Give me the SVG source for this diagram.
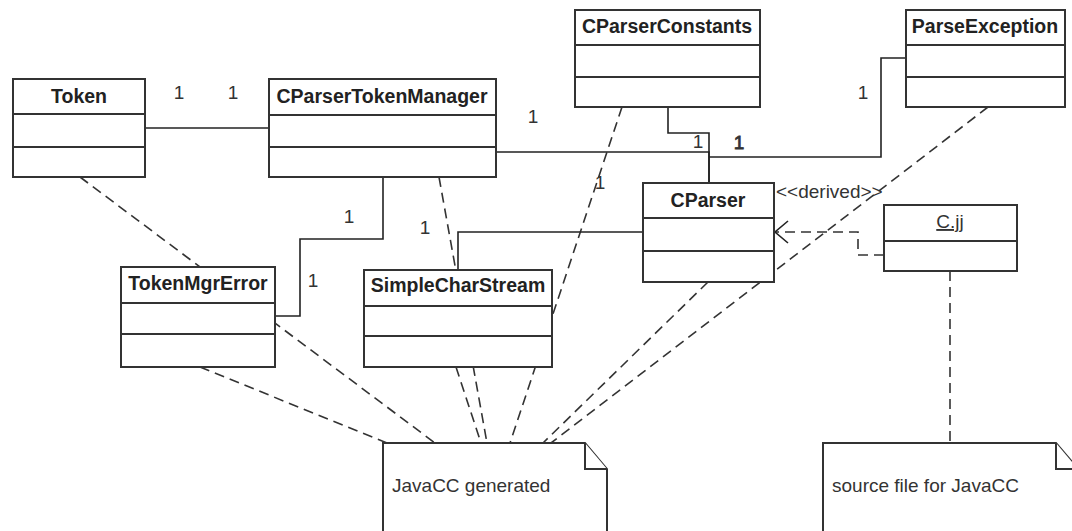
<svg xmlns="http://www.w3.org/2000/svg" width="1072" height="531" viewBox="0 0 1072 531">
  <style>
    .box { fill: #fff; stroke: #333; stroke-width: 2; }
    .div { stroke: #333; stroke-width: 2; }
    .title { font-family: "Liberation Sans", Arial, sans-serif; font-size: 19.5px; font-weight: bold; fill: #222; text-anchor: middle; }
    .txt { font-family: "Liberation Sans", Arial, sans-serif; font-size: 19px; fill: #333; }
    .mult { font-family: "Liberation Sans", Arial, sans-serif; font-size: 19px; fill: #333; text-anchor: middle; }
    .heavy { stroke: #333; stroke-width: 0.8; }
    .assoc { fill: none; stroke: #222; stroke-width: 1.6; }
    .dash { fill: none; stroke: #333; stroke-width: 1.6; stroke-dasharray: 10 6; }
    .note { fill: #fff; stroke: #333; stroke-width: 2; }
  </style>

  <!-- dashed links to notes, drawn first so boxes sit on top -->
  <g id="connectors">
    <line class="dash" x1="80" y1="177" x2="435" y2="443"/>
    <line class="dash" x1="200" y1="367" x2="387" y2="443"/>
    <line class="dash" x1="439" y1="177" x2="487" y2="443"/>
    <line class="dash" x1="456" y1="367" x2="481" y2="443"/>
    <line class="dash" x1="622" y1="107" x2="510" y2="443"/>
    <line class="dash" x1="708" y1="282" x2="543" y2="443"/>
    <line class="dash" x1="988" y1="107" x2="551" y2="443"/>
    <line class="dash" x1="950" y1="271" x2="950" y2="443"/>

    <!-- associations -->
    <line class="assoc" x1="145" y1="128" x2="269" y2="128"/>
    <polyline class="assoc" points="496,152 709,152 709,183"/>
    <polyline class="assoc" points="668,107 668,133 709,133 709,183"/>
    <polyline class="assoc" points="906,58 881,58 881,157 709,157"/>
    <polyline class="assoc" points="383,177 383,239 300,239 300,316 275,316"/>
    <polyline class="assoc" points="643,232 458,232 458,270"/>

    <!-- derivation dependency C.jj -> CParser -->
    <polyline class="dash" points="884,255 858,255 858,232 776,232"/>
    <polyline class="assoc" points="788,221 775,232 788,243"/>
  </g>

  <g id="Token">
    <rect class="box" x="13" y="79" width="132" height="98"/>
    <line class="div" x1="13" y1="114" x2="145" y2="114"/>
    <line class="div" x1="13" y1="147" x2="145" y2="147"/>
    <text class="title" x="79" y="103">Token</text>
  </g>

  <g id="CParserTokenManager">
    <rect class="box" x="269" y="79" width="227" height="98"/>
    <line class="div" x1="269" y1="115" x2="496" y2="115"/>
    <line class="div" x1="269" y1="147" x2="496" y2="147"/>
    <text class="title" x="382" y="103">CParserTokenManager</text>
  </g>

  <g id="CParserConstants">
    <rect class="box" x="575" y="10" width="185" height="97"/>
    <line class="div" x1="575" y1="45" x2="760" y2="45"/>
    <line class="div" x1="575" y1="77" x2="760" y2="77"/>
    <text class="title" x="667" y="33">CParserConstants</text>
  </g>

  <g id="ParseException">
    <rect class="box" x="906" y="10" width="159" height="97"/>
    <line class="div" x1="906" y1="45" x2="1065" y2="45"/>
    <line class="div" x1="906" y1="77" x2="1065" y2="77"/>
    <text class="title" x="985" y="33">ParseException</text>
  </g>

  <g id="CParser">
    <rect class="box" x="643" y="183" width="131" height="99"/>
    <line class="div" x1="643" y1="218" x2="774" y2="218"/>
    <line class="div" x1="643" y1="251" x2="774" y2="251"/>
    <text class="title" x="708" y="207">CParser</text>
  </g>

  <g id="TokenMgrError">
    <rect class="box" x="121" y="267" width="154" height="100"/>
    <line class="div" x1="121" y1="303" x2="275" y2="303"/>
    <line class="div" x1="121" y1="334" x2="275" y2="334"/>
    <text class="title" x="198" y="290">TokenMgrError</text>
  </g>

  <g id="SimpleCharStream">
    <rect class="box" x="364" y="270" width="188" height="97"/>
    <line class="div" x1="364" y1="306" x2="552" y2="306"/>
    <line class="div" x1="364" y1="336" x2="552" y2="336"/>
    <text class="title" x="458" y="292">SimpleCharStream</text>
  </g>

  <g id="Cjj">
    <rect class="box" x="884" y="205" width="133" height="66"/>
    <line class="div" x1="884" y1="241" x2="1017" y2="241"/>
    <text class="txt" x="950" y="228" text-anchor="middle" text-decoration="underline">C.jj</text>
  </g>

  <g id="note-generated">
    <path class="note" d="M383,443 H585 L607,469 V540 H383 Z"/>
    <path class="note" d="M585,443 V469 H607"/>
    <text class="txt" x="392" y="492">JavaCC generated</text>
  </g>

  <g id="note-source">
    <path class="note" d="M823,443 H1056 L1078,469 V540 H823 Z"/>
    <path class="note" d="M1056,443 V469 H1078"/>
    <text class="txt" x="832" y="492">source file for JavaCC</text>
  </g>

  <!-- multiplicities and stereotype -->
  <g id="labels">
    <text class="mult" x="179" y="99">1</text>
    <text class="mult" x="233" y="99">1</text>
    <text class="mult" x="533" y="123">1</text>
    <text class="mult" x="863" y="99">1</text>
    <text class="mult" x="698" y="148">1</text>
    <text class="mult heavy" x="739" y="149">1</text>
    <text class="mult" x="600" y="189">1</text>
    <text class="mult" x="349" y="223">1</text>
    <text class="mult" x="425" y="234">1</text>
    <text class="mult" x="313" y="287">1</text>
    <text class="txt" x="776" y="198">&lt;&lt;derived&gt;&gt;</text>
  </g>
</svg>
